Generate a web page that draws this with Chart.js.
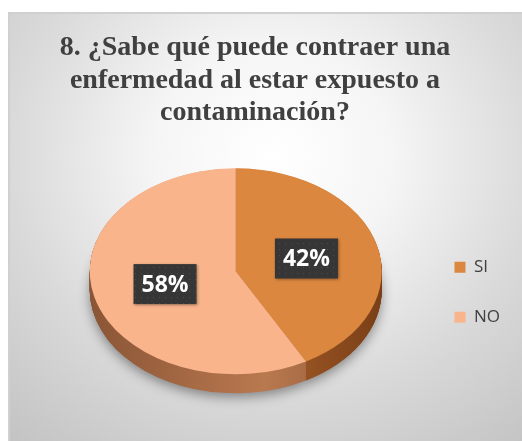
<!DOCTYPE html>
<html>
<head>
<meta charset="utf-8">
<title>Pregunta 8</title>
<script src="https://cdn.jsdelivr.net/npm/chart.js@4.4.0/dist/chart.umd.min.js"></script>
<style>
    html, body { margin: 0; padding: 0; background: #fff; overflow: hidden; }
    #frame {
        position: absolute; left: 8px; top: 12px;
        width: 560px; height: 470px;
        border: 2px solid #d0d0d0;
        background: radial-gradient(ellipse 72% 78% at 47% 30%, #ffffff 0%, #f5f5f5 30%, #dadada 65%, #c4c4c4 100%);
    }
    #wrap { position: absolute; left: 0; top: 0; width: 522px; height: 441px; }
</style>
</head>
<body>
<div id="frame"></div>
<div id="wrap"><canvas id="pieChart"></canvas></div>
<script>
// Data
const categories = ['SI', 'NO'];
const percentages = [42, 58];
const titleLines = [
    '8. ¿Sabe qué puede contraer una',
    'enfermedad al estar expuesto a',
    'contaminación?'
];

// small dotted texture for the label boxes
const makeDots = () => {
    const c = document.createElement('canvas');
    c.width = 6; c.height = 6;
    const g = c.getContext('2d');
    g.fillStyle = '#363636';
    g.fillRect(0, 0, 6, 6);
    g.fillStyle = '#4d4d4d';
    g.fillRect(3, 3, 1, 1);
    return c;
};

// 3D tilt + side walls + data labels
const pie3d = {
    id: 'pie3d',
    beforeDatasetsDraw(chart, args, opts) {
        const ctx = chart.ctx;
        const arcs = chart.getDatasetMeta(0).data;
        if (!arcs.length) return;
        const { x, y } = arcs[0];
        ctx.save();
        ctx.translate(x + opts.dx, y + opts.dy);
        ctx.scale(1, opts.tilt);
        ctx.translate(-x, -y);

        for (let k = opts.depth; k > 0; k -= 0.5) {
            arcs.forEach((arc, i) => {
                const p = arc.getProps(['x', 'y', 'startAngle', 'endAngle', 'outerRadius']);
                const oy = p.y + k / opts.tilt;
                const grad = ctx.createLinearGradient(p.x - p.outerRadius, 0, p.x + p.outerRadius, 0);
                const [edge, mid] = opts.sideColors[i];
                grad.addColorStop(0, edge);
                grad.addColorStop(0.6, mid);
                grad.addColorStop(1, edge);
                ctx.save();
                if (k === opts.depth) {
                    // soft drop shadow below the disc
                    ctx.shadowColor = 'rgba(0,0,0,0.4)';
                    ctx.shadowBlur = 12;
                    ctx.shadowOffsetY = 4;
                }
                ctx.beginPath();
                ctx.moveTo(p.x, oy);
                ctx.arc(p.x, oy, p.outerRadius, p.startAngle, p.endAngle);
                ctx.closePath();
                ctx.fillStyle = grad;
                ctx.fill();
                ctx.restore();
            });
        }
    },
    afterDatasetsDraw(chart, args, opts) {
        const ctx = chart.ctx;
        const arcs = chart.getDatasetMeta(0).data;
        if (!arcs.length) return;
        ctx.restore();

        const { y } = arcs[0];
        const pattern = ctx.createPattern(makeDots(), 'repeat');
        ctx.save();
        ctx.font = 'bold 23px "Open Sans", "DejaVu Sans", sans-serif';
        ctx.textAlign = 'center';
        ctx.textBaseline = 'middle';
        arcs.forEach((arc, i) => {
            const c = arc.getCenterPoint();
            const px = c.x + opts.dx;
            const py = y + opts.dy + (c.y - y) * opts.tilt;
            const label = percentages[i] + '%';
            const w = ctx.measureText(label).width + 16;
            const h = 40;
            ctx.save();
            ctx.shadowColor = 'rgba(0,0,0,0.35)';
            ctx.shadowBlur = 3;
            ctx.shadowOffsetX = 1;
            ctx.shadowOffsetY = 1;
            ctx.fillStyle = pattern;
            ctx.fillRect(px - w / 2, py - h / 2, w, h);
            ctx.restore();
            ctx.fillStyle = '#ffffff';
            ctx.fillText(label, px, py + 1);
        });
        ctx.restore();
    }
};

const ctxPie = document.getElementById('pieChart').getContext('2d');
new Chart(ctxPie, {
    type: 'pie',
    data: {
        labels: categories,
        datasets: [{
            data: percentages,
            backgroundColor: ['#DC873F', '#F9B48B'],
            borderWidth: 0,
            radius: 146
        }]
    },
    options: {
        responsive: true,
        maintainAspectRatio: false,
        animation: false,
        layout: { padding: { left: 0, right: 12, top: 0, bottom: 0 } },
        plugins: {
            title: {
                display: true,
                text: titleLines,
                color: '#404040',
                font: { family: '"Liberation Serif", "Times New Roman", serif', size: 28, weight: 'bold', lineHeight: 1.15 },
                padding: { top: 32, bottom: 15 }
            },
            legend: {
                position: 'right',
                fullSize: false,
                labels: {
                    color: '#404040',
                    font: { family: '"Open Sans", "Liberation Sans", sans-serif', size: 17 },
                    boxWidth: 11,
                    boxHeight: 11,
                    padding: 33
                }
            },
            tooltip: { enabled: false },
            pie3d: {
                tilt: 0.705,
                depth: 19,
                dx: 25,
                dy: -21,
                sideColors: [['#7a3f17', '#a45c28'], ['#8a5536', '#b9794f']]
            }
        }
    },
    plugins: [pie3d]
});
</script>
</body>
</html>
